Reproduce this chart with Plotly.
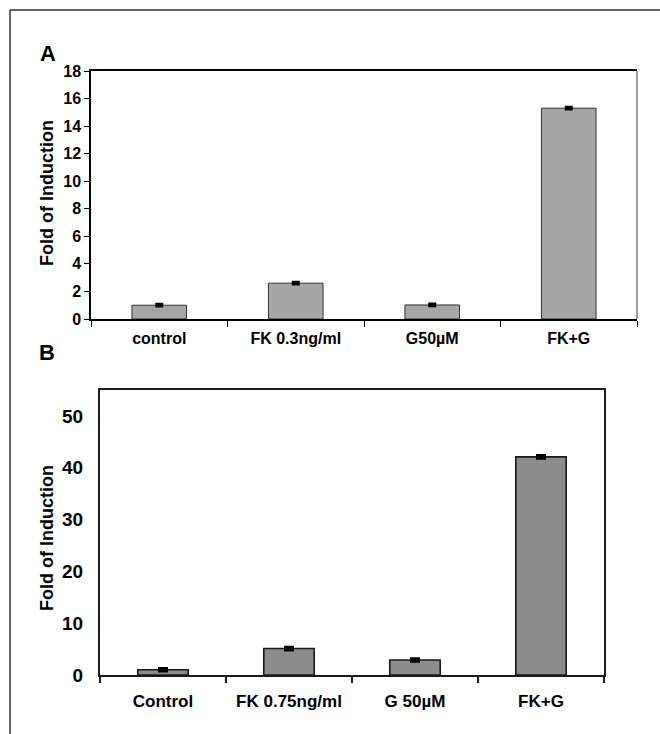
import plotly.graph_objects as go

# Panel A data
cats_a = ["control", "FK 0.3ng/ml", "G50µM", "FK+G"]
vals_a = [1.0, 2.6, 1.02, 15.3]
err_a = [0.08, 0.08, 0.08, 0.08]
yticks_a = [0, 2, 4, 6, 8, 10, 12, 14, 16, 18]

# Panel B data
cats_b = ["Control", "FK 0.75ng/ml", "G 50µM", "FK+G"]
vals_b = [1.0, 5.1, 2.9, 42.1]
err_b = [0.3, 0.3, 0.3, 0.3]
yticks_b = [0, 10, 20, 30, 40, 50]

FONT = "Liberation Sans, Arial, sans-serif"
W, H = 660, 734

def px_x(p):
    return p / W

def px_y(p):
    return 1 - p / H

fig = go.Figure()
fig.add_trace(go.Bar(
    x=cats_a, y=vals_a, width=0.40,
    marker=dict(color="#a6a6a6", line=dict(color="#333333", width=1)),
    error_y=dict(type="data", array=err_a, color="black", thickness=2.5, width=4),
    xaxis="x", yaxis="y", showlegend=False))
fig.add_trace(go.Bar(
    x=cats_b, y=vals_b, width=0.40,
    marker=dict(color="#8c8c8c", line=dict(color="#1a1a1a", width=1.6)),
    error_y=dict(type="data", array=err_b, color="black", thickness=2.5, width=5),
    xaxis="x2", yaxis="y2", showlegend=False))

ytickfont_a = dict(family=FONT, size=16, color="black", weight="bold")
xtickfont_a = dict(family=FONT, size=16, color="black", weight="bold")
ytickfont_b = dict(family=FONT, size=19, color="black", weight="bold")
xtickfont_b = dict(family=FONT, size=17, color="black", weight="bold")

fig.update_layout(
    width=W, height=H,
    margin=dict(l=0, r=0, t=0, b=0, autoexpand=False),
    paper_bgcolor="white", plot_bgcolor="white",
    bargap=0.6,
    xaxis=dict(domain=[px_x(91), px_x(637)], anchor="y", automargin=False,
               showline=True, linecolor="black", linewidth=1.5, mirror=True,
               ticks="outside", tickson="boundaries", ticklen=6, tickcolor="black", tickwidth=1,
               ticklabelstandoff=4, tickfont=xtickfont_a, showgrid=False),
    yaxis=dict(domain=[px_y(319), px_y(71)], anchor="x", range=[0, 18], automargin=False,
               tickvals=yticks_a, showline=True, linecolor="black", linewidth=1.5,
               ticks="outside", ticklen=5, tickcolor="black", tickwidth=1,
               tickfont=ytickfont_a, showgrid=False, zeroline=False),
    xaxis2=dict(domain=[px_x(100), px_x(604)], anchor="y2", automargin=False,
                showline=True, linecolor="#1a1a1a", linewidth=2.2, mirror=True,
                ticks="outside", tickson="boundaries", ticklen=6, tickcolor="#1a1a1a", tickwidth=1.5,
                ticklabelstandoff=9, tickfont=xtickfont_b, showgrid=False),
    yaxis2=dict(domain=[px_y(675), px_y(390)], anchor="x2", range=[0, 55], automargin=False,
                tickvals=yticks_b, showline=True, linecolor="#1a1a1a", linewidth=2.2, mirror=True,
                ticks="", ticklabelstandoff=11,
                tickfont=ytickfont_b, showgrid=False, zeroline=False),
)

# Right border of panel A (gray)
fig.add_shape(type="line", xref="x domain", yref="y domain", x0=1, x1=1, y0=0, y1=1,
              line=dict(color="#7a7a7a", width=1.5))

# Outer frame lines (top and left)
fig.add_shape(type="line", xref="paper", yref="paper", x0=px_x(10), x1=1, y0=px_y(10), y1=px_y(10),
              line=dict(color="#333333", width=1.5))
fig.add_shape(type="line", xref="paper", yref="paper", x0=px_x(10), x1=px_x(10), y0=px_y(10), y1=0,
              line=dict(color="#333333", width=1.5))

ann = dict(xref="paper", yref="paper", showarrow=False, xanchor="center", yanchor="middle")
fig.add_annotation(x=px_x(48), y=px_y(53), text="A",
                   font=dict(family=FONT, size=22, color="black", weight="bold"), **ann)
fig.add_annotation(x=px_x(47), y=px_y(352), text="B",
                   font=dict(family=FONT, size=22, color="black", weight="bold"), **ann)
fig.add_annotation(x=px_x(47), y=px_y(193), text="Fold of Induction", textangle=-90,
                   font=dict(family=FONT, size=18, color="black", weight="bold"), **ann)
fig.add_annotation(x=px_x(47), y=px_y(538), text="Fold of Induction", textangle=-90,
                   font=dict(family=FONT, size=18, color="black", weight="bold"), **ann)

post = (
    "var s=document.createElement('style');"
    "s.textContent='html,body{margin:0;padding:0;overflow:hidden;}"
    ".plotly-graph-div{position:fixed !important;top:0 !important;left:0 !important;}';"
    "document.head.appendChild(s);"
)
fig.write_html("out.html", config={"displayModeBar": False}, post_script=post)
